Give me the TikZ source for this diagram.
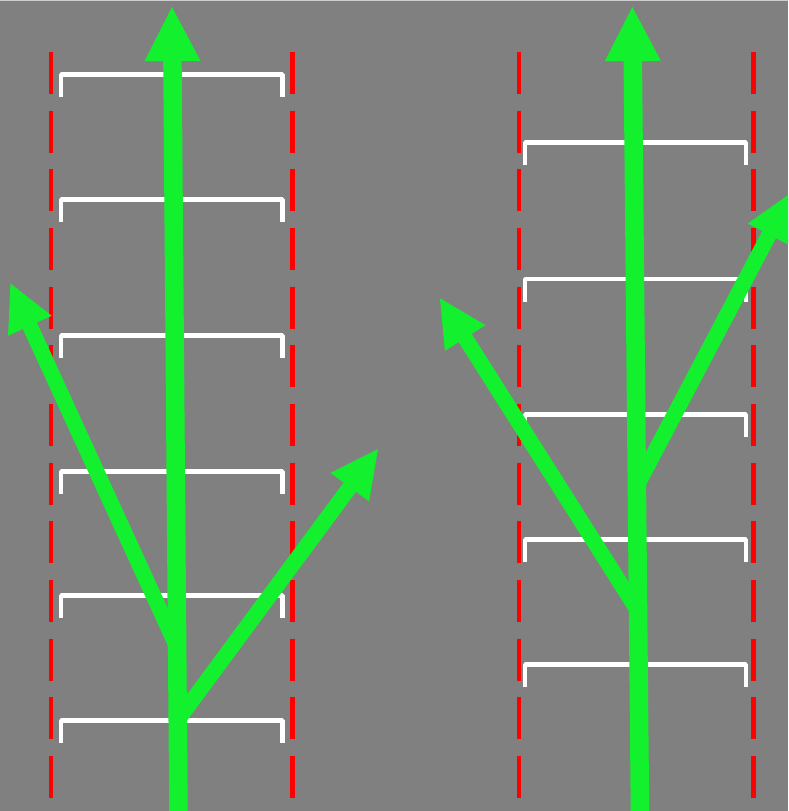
\documentclass[tikz,border=0pt]{standalone}
\usetikzlibrary{calc}
\definecolor{bg}{RGB}{128,128,128}
\definecolor{lanered}{RGB}{255,0,0}
\definecolor{arrowgreen}{RGB}{19,240,45}
\definecolor{topline}{RGB}{205,205,205}
\tikzset{
  lane/.style={draw=lanered, line width=4.5pt, dash pattern=on 42pt off 16.67pt},
  bracketline/.style={draw=white, line width=4.5pt, line join=bevel},
  shaft/.style={draw=arrowgreen},
  headfill/.style={fill=arrowgreen}
}
% #1 start, #2 tip, #3 shaft width, #4 head length, #5 half head width
\newcommand{\grarrow}[5]{%
  \coordinate (#2-b) at ($(#2)!#4!(#1)$);
  \coordinate (#2-l) at ($(#2-b)!#5!90:(#2)$);
  \coordinate (#2-r) at ($(#2-b)!#5!-90:(#2)$);
  \draw[shaft, line width=#3] (#1) -- ($(#2-b)!2pt!(#2)$);
  \fill[headfill] (#2) -- (#2-l) -- (#2-r) -- cycle;
}
\newcommand{\bracketat}[3]{% #1 left x, #2 right x, #3 y
  \draw[bracketline] (#1,#3+22.5) -- (#1,#3) -- (#2,#3) -- (#2,#3+22.5);
}
\begin{document}
\begin{tikzpicture}[x=1pt,y=-1pt]
  \fill[bg] (0,0) rectangle (788,811);
  \useasboundingbox (0,0) rectangle (788,811);
  \clip (0,0) rectangle (788,811);
  \draw[topline, line width=1.5pt] (0,0.5) -- (788,0.5);

  % red dashed lane lines
  \foreach \x in {51.2,292.5,519.2,753.5} {
    \draw[lane] (\x,52) -- (\x,798);
  }

  % white brackets, left panel
  \foreach \y in {74.5,199.5,335.5,471.5,595.5,720.5} {
    \bracketat{61.2}{282.5}{\y}
  }
  % white brackets, right panel
  \foreach \y in {142.5,279,414.5,539.5,664.5} {
    \bracketat{524.8}{746.2}{\y}
  }

  % green arrows, left panel
  \coordinate (L0) at (178.5,815);
  \coordinate (Ltop) at (172,7);
  \coordinate (Lj1) at (177,647);
  \coordinate (Lleft) at (10.5,283.5);
  \coordinate (Lj2) at (178.5,719);
  \coordinate (Lright) at (378,449);
  \grarrow{L0}{Ltop}{18.5pt}{54pt}{28pt}
  \grarrow{Lj1}{Lleft}{15.5pt}{46.5pt}{24pt}
  \grarrow{Lj2}{Lright}{15.5pt}{47.5pt}{24pt}

  % green arrows, right panel
  \coordinate (R0) at (640,815);
  \coordinate (Rtop) at (632.3,7);
  \coordinate (Rj1) at (638,611);
  \coordinate (Rleft) at (440,298.3);
  \coordinate (Rj2) at (636.3,487);
  \coordinate (Rright) at (791,193);
  \grarrow{R0}{Rtop}{18.5pt}{54pt}{28pt}
  \grarrow{Rj1}{Rleft}{15.5pt}{47pt}{24pt}
  \grarrow{Rj2}{Rright}{15.5pt}{47pt}{24pt}
\end{tikzpicture}
\end{document}
